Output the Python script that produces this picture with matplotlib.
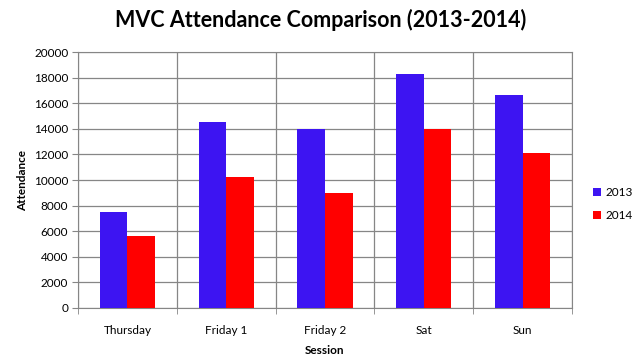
import numpy as np
import matplotlib
matplotlib.use('Agg')
import matplotlib.pyplot as plt

# Data
sessions = ['Thursday', 'Friday 1', 'Friday 2', 'Sat', 'Sun']
att_2013 = [7500, 14550, 14000, 18300, 16650]
att_2014 = [5600, 10250, 9000, 14000, 12100]

plt.rcParams['font.family'] = ['Lato', 'DejaVu Sans']
plt.rcParams['font.size'] = 8

fig = plt.figure(figsize=(6.42, 3.58), dpi=100)
ax = fig.add_axes([0.1215, 0.1397, 0.7695, 0.715])

x = np.arange(len(sessions))
w = 0.28
ax.bar(x - w / 2, att_2013, width=w, color='#3D14F2', label='2013', zorder=3)
ax.bar(x + w / 2, att_2014, width=w, color='#FF0000', label='2014', zorder=3)

ax.set_xlim(-0.5, len(sessions) - 0.5)
ax.set_ylim(0, 20000)
ax.set_yticks(np.arange(0, 20001, 2000))
ax.set_xticks(x)
ax.set_xticklabels(sessions, fontsize=8.5)
ax.set_xticks(np.arange(-0.5, len(sessions), 1), minor=True)
ax.tick_params(axis='x', which='major', length=0, pad=12)
ax.tick_params(axis='x', which='minor', length=4, color='#868686')
ax.tick_params(axis='y', length=4, color='#868686', pad=3, labelsize=8.5)

ax.grid(axis='y', color='#868686', linewidth=0.9, zorder=0)
ax.grid(axis='x', which='minor', color='#868686', linewidth=0.9, zorder=0)
for s in ax.spines.values():
    s.set_color('#868686')

ax.set_ylabel('Attendance', fontweight='bold', fontsize=8.5)
ax.set_xlabel('Session', fontweight='bold', fontsize=8.5, labelpad=7)
fig.suptitle('MVC Attendance Comparison (2013-2014)', fontweight='bold',
             fontsize=15.5, y=0.975)

ax.legend(loc='center left', bbox_to_anchor=(1.02, 0.406), frameon=False,
          handlelength=0.7, handleheight=0.7, handletextpad=0.4,
          labelspacing=1.0, fontsize=8.5)

fig.savefig('out.png', dpi=100)
